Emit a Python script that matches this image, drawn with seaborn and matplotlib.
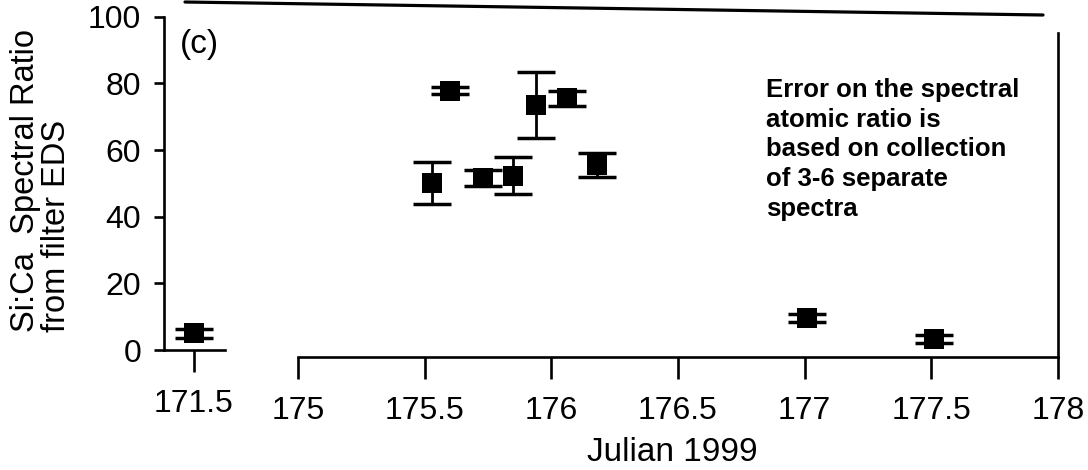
import numpy as np
import pandas as pd
import matplotlib
matplotlib.use("Agg")
import matplotlib.pyplot as plt
from matplotlib.lines import Line2D
import seaborn as sns

# ---- data ----
days = [171.5, 175.53, 175.60, 175.73, 175.85, 175.94, 176.06, 176.18, 177.01, 177.51]
ratio = [5.0, 50.2, 77.8, 51.8, 52.4, 73.5, 75.5, 55.5, 9.7, 3.4]
err = [1.4, 6.2, 1.0, 2.4, 5.6, 9.8, 2.3, 3.5, 1.1, 1.2]
left_ticks = [171.5]
right_ticks = [175, 175.5, 176, 176.5, 177, 177.5, 178]
right_tick_labels = ["175", "175.5", "176", "176.5", "177", "177.5", "178"]
y_ticks = [0, 20, 40, 60, 80, 100]
note = "Error on the spectral\natomic ratio is\nbased on collection\nof 3-6 separate\nspectra"

df = pd.DataFrame({"day": days, "ratio": ratio, "err": err})
df_left = df[df["day"] < 174]
df_right = df[df["day"] >= 174]

sns.set_style("white")
plt.rcParams["font.family"] = ["Liberation Sans", "DejaVu Sans"]
plt.rcParams["text.color"] = "black"
plt.rcParams["axes.labelcolor"] = "black"
plt.rcParams["xtick.color"] = "black"
plt.rcParams["ytick.color"] = "black"

W, H = 1088, 470
fig = plt.figure(figsize=(W / 100, H / 100), dpi=100)

def fx(px):
    return px / W

def fy(py):
    return 1 - py / H

lw = 1.9
axL = fig.add_axes([fx(164), fy(350), fx(225) - fx(164), fy(16.7) - fy(350)])
axR = fig.add_axes([fx(298), fy(357), fx(1058) - fx(298), fy(16.7) - fy(357)])

def draw(ax, d):
    ax.errorbar(d["day"], d["ratio"], yerr=d["err"], fmt="none", ecolor="black",
                elinewidth=2.0, capsize=14, capthick=2.5, zorder=2)
    sns.scatterplot(data=d, x="day", y="ratio", marker="s", s=190, color="black",
                    edgecolor="black", linewidth=0, ax=ax, zorder=3)

draw(axL, df_left)
draw(axR, df_right)

# left segment
axL.set_xlim(171.5 - 30 / 253.3, 171.5 + 31 / 253.3)
axL.set_ylim(0, 100)
axL.set_xticks(left_ticks)
axL.set_xticklabels(["171.5"])
axL.set_yticks(y_ticks)
axL.set_yticklabels([str(v) for v in y_ticks])
for s in ["top", "right"]:
    axL.spines[s].set_visible(False)
for s in ["left", "bottom"]:
    axL.spines[s].set_linewidth(lw)
    axL.spines[s].set_color("black")
axL.tick_params(axis="y", direction="out", length=7.5, width=lw, pad=9,
                labelsize=23, left=True, colors="black")
axL.tick_params(axis="x", direction="out", length=16, width=lw, pad=12,
                labelsize=23, bottom=True, colors="black")
axL.set_xlabel("")
axL.set_ylabel("")

# right segment
axR.set_xlim(175, 178)
axR.set_ylim(-2, 100)
axR.set_xticks(right_ticks)
axR.set_xticklabels(right_tick_labels)
axR.set_yticks([])
axR.spines["left"].set_visible(False)
axR.spines["top"].set_visible(False)
axR.spines["right"].set_bounds(-2, 95)
for s in ["right", "bottom"]:
    axR.spines[s].set_linewidth(lw)
    axR.spines[s].set_color("black")
axR.tick_params(axis="x", direction="out", length=16, width=lw, pad=12,
                labelsize=23, bottom=True, colors="black")
axR.set_xlabel("Julian 1999", fontsize=24, va="center", color="black")
axR.xaxis.set_label_coords((672 - 298) / 760, -(452 - 357) / 340)
axR.set_ylabel("")

# top border line (slightly tilted like the scan)
fig.add_artist(Line2D([fx(185), fx(1043)], [fy(2), fy(15)], color="black",
                      linewidth=2.3, transform=fig.transFigure))

# y-axis label
fig.text(fx(41), fy(181), "Si:Ca  Spectral Ratio\nfrom filter EDS", rotation=90,
         ha="center", va="center", multialignment="left", fontsize=23.5,
         linespacing=1.0, color="black")

# panel label
fig.text(fx(180), fy(44), "(c)", ha="left", va="center", fontsize=24, color="black")

# note
fig.text(fx(766), fy(78), note, ha="left", va="top", fontsize=18.5,
         fontweight="bold", linespacing=1.3, color="black")

fig.savefig("out.png", dpi=100)
